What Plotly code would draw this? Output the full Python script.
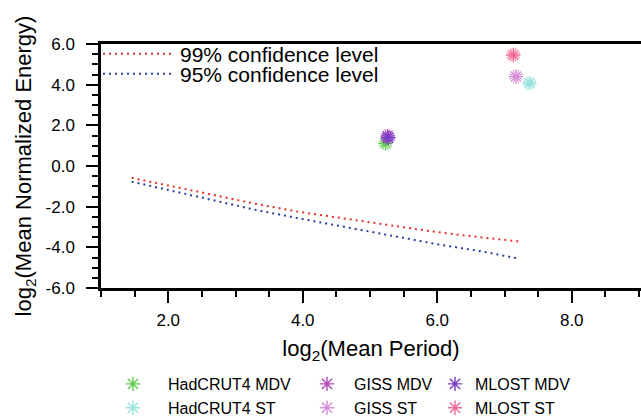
import plotly.graph_objects as go

# ---- data ----
conf_x = [1.456, 2.075, 2.695, 3.315, 3.934, 4.554, 5.10, 5.99, 6.71, 7.245]
conf99_y = [-0.58, -1.02, -1.43, -1.87, -2.25, -2.56, -2.83, -3.25, -3.53, -3.72]
conf95_x = [1.456, 2.075, 2.695, 3.315, 3.934, 4.554, 5.10, 5.99, 6.71, 7.22]
conf95_y = [-0.77, -1.23, -1.71, -2.17, -2.57, -2.95, -3.32, -3.84, -4.23, -4.56]

series_names = ["HadCRUT4 MDV", "HadCRUT4 ST", "GISS MDV", "GISS ST", "MLOST MDV", "MLOST ST"]
series_x = [5.23, 7.37, 5.26, 7.17, 5.27, 7.13]
series_y = [1.12, 4.07, 1.47, 4.40, 1.39, 5.46]
series_colors = ["#62cc50", "#98e4dc", "#b445b8", "#d68fd8", "#7a3ec6", "#f06898"]
series_legend = ["legend3", "legend3", "legend4", "legend4", "legend5", "legend5"]

x_tickvals = [2, 4, 6, 8]
x_ticktext = ["2.0", "4.0", "6.0", "8.0"]
y_tickvals = [-6, -4, -2, 0, 2, 4, 6]
y_ticktext = ["-6.0", "-4.0", "-2.0", "0.0", "2.0", "4.0", "6.0"]

FONT = "Liberation Sans, Arial, Helvetica, sans-serif"

fig = go.Figure()

fig.add_trace(go.Scatter(x=conf_x, y=conf99_y, mode="lines", name="99% confidence level",
                         line=dict(color="#e3332b", width=2, dash="2px,4px"), legend="legend"))
fig.add_trace(go.Scatter(x=conf95_x, y=conf95_y, mode="lines", name="95% confidence level",
                         line=dict(color="#2b3f9e", width=2, dash="2px,4px"), legend="legend2"))

for i, name in enumerate(series_names):
    fig.add_trace(go.Scatter(x=[series_x[i]], y=[series_y[i]], mode="markers", name=name,
                             legend=series_legend[i], legendgroup=name,
                             marker=dict(symbol="asterisk-open", size=12, color=series_colors[i],
                                         line=dict(color=series_colors[i], width=1.4))))
    fig.add_trace(go.Scatter(x=[series_x[i]], y=[series_y[i]], mode="markers", name=name,
                             showlegend=False, legendgroup=name, hoverinfo="skip",
                             marker=dict(symbol="asterisk-open", size=12, angle=22.5,
                                         color=series_colors[i],
                                         line=dict(color=series_colors[i], width=1.0))))

W, H = 641, 416
L, R, T, B = 101, 0, 44, 128
pw, ph = W - L - R, H - T - B

def px_x(p):
    return (p - L) / pw

def px_y(p):
    return (H - B - p) / ph

common_leg = dict(bgcolor="rgba(0,0,0,0)", borderwidth=0, orientation="v",
                  xanchor="left", yanchor="middle")

fig.update_layout(
    width=W, height=H,
    margin=dict(l=L, r=R, t=T, b=B, autoexpand=False),
    paper_bgcolor="white", plot_bgcolor="white",
    font=dict(family=FONT, color="black"),
    showlegend=True,
    legend=dict(**common_leg, x=px_x(98), y=px_y(54), itemwidth=72, font=dict(size=21)),
    legend2=dict(**common_leg, x=px_x(98), y=px_y(74), itemwidth=72, font=dict(size=21)),
    legend3=dict(**common_leg, x=px_x(98), y=px_y(396), itemwidth=60, font=dict(size=16),
                 tracegroupgap=5, traceorder="normal"),
    legend4=dict(**common_leg, x=px_x(300), y=px_y(396), itemwidth=44, font=dict(size=16),
                 tracegroupgap=5, traceorder="normal"),
    legend5=dict(**common_leg, x=px_x(435), y=px_y(396), itemwidth=30, font=dict(size=16),
                 tracegroupgap=5, traceorder="normal"),
)

fig.update_xaxes(
    range=[1, 1 + pw / 67.25],
    showgrid=False, zeroline=False,
    showline=True, linecolor="black", linewidth=2.5, mirror=True,
    ticks="outside", ticklen=12, tickwidth=2, tickcolor="black",
    tickvals=x_tickvals, ticktext=x_ticktext,
    tickfont=dict(size=17, family=FONT),
    ticklabelstandoff=3,
    minor=dict(ticks="outside", ticklen=6, tickwidth=1.5, tickcolor="black", dtick=0.5, tick0=0),
    title=dict(text="log<sub>2</sub>(Mean Period)", font=dict(size=22, family=FONT), standoff=12),
)
fig.update_yaxes(
    range=[-6, 6],
    showgrid=False, zeroline=False,
    showline=True, linecolor="black", linewidth=2.5, mirror=False,
    ticks="outside", ticklen=12, tickwidth=2, tickcolor="black",
    tickvals=y_tickvals, ticktext=y_ticktext,
    tickfont=dict(size=17, family=FONT),
    ticklabelstandoff=8,
    minor=dict(ticks="outside", ticklen=6, tickwidth=1.5, tickcolor="black", dtick=0.5, tick0=0),
    title=dict(text="log<sub>2</sub>(Mean Normalized Energy)", font=dict(size=22, family=FONT), standoff=8),
)

fig.write_html("out.html")
